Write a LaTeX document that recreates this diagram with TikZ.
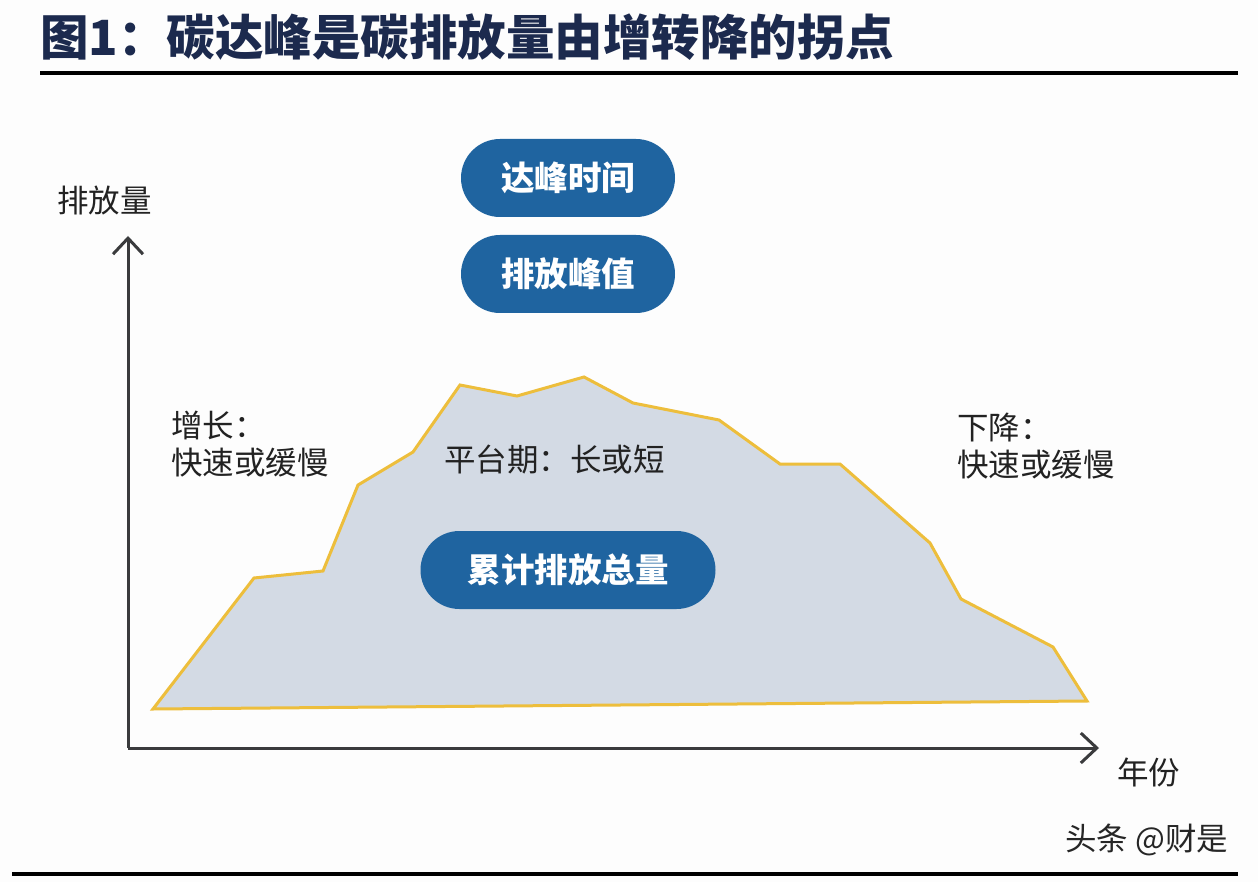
\documentclass[tikz,border=0pt]{standalone}
\usepackage{fontspec}
\newfontfamily\cjk{Noto Sans CJK SC}
\usetikzlibrary{arrows.meta}
\definecolor{bgc}{HTML}{FDFDFD}
\definecolor{titlec}{HTML}{1C2A4E}
\definecolor{axisc}{HTML}{3A3B3D}
\definecolor{pillc}{HTML}{1F64A0}
\definecolor{mountc}{HTML}{D3DAE4}
\definecolor{edgec}{HTML}{EDBE3C}
\definecolor{txtc}{HTML}{222222}
\tikzset{
  pill/.style={fill=pillc, rounded corners=39pt, minimum height=78pt, inner sep=0pt,
    text=white, font=\cjk\bfseries\fontsize{33.5}{33.5}\selectfont},
  lbl/.style={inner sep=0pt, text=txtc, font=\cjk\fontsize{31.5}{37}\selectfont, align=left},
  axis/.style={draw=axisc, line width=3pt, -{Straight Barb[length=16pt,width=30pt,line width=3pt]}},
}
\begin{document}
\begin{tikzpicture}[x=1pt,y=-1pt]
\fill[bgc] (0,0) rectangle (1258,882);
\useasboundingbox (0,0) rectangle (1258,882);
% title
\node[anchor=west, inner sep=0pt, text=titlec, font=\cjk\bfseries\fontsize{48.5}{48.5}\selectfont] (title) at (40,37) {图1：碳达峰是碳排放量由增转降的拐点};
\fill[black] (40,71.5) rectangle (1238,75.5);
\fill[black] (12,872) rectangle (1238,876);
% mountain
\fill[mountc] (153,709) -- (254,578) -- (323,571) -- (358,485) -- (413,452) -- (460,385) -- (517,396) -- (584,377) -- (633,403) -- (719,420) -- (780,464) -- (840,464) -- (930,543) -- (961,599) -- (1053,647) -- (1087,701) -- cycle;
\draw[edgec, line width=3pt, line join=miter] (153,709) -- (254,578) -- (323,571) -- (358,485) -- (413,452) -- (460,385) -- (517,396) -- (584,377) -- (633,403) -- (719,420) -- (780,464) -- (840,464) -- (930,543) -- (961,599) -- (1053,647) -- (1087,701) -- cycle;
% axes
\coordinate (o) at (128,748);
\coordinate (ytip) at (128,236);
\coordinate (xtip) at (1099,748);
\draw[axis] (o) -- (ytip);
\draw[axis] (o) -- (xtip);
\node[lbl, anchor=west] (ylab) at (57,201) {排放量};
\node[lbl, anchor=west] (xlab) at (1117,772) {年份};
% pills
\node[pill, minimum width=214pt] (p1) at (568,178) {达峰时间};
\node[pill, minimum width=214pt] (p2) at (568,274) {排放峰值};
\node[pill, minimum width=295pt] (p3) at (568,570) {累计排放总量};
% labels
\node[lbl, anchor=north west] (grow) at (171,411) {增长：\\快速或缓慢};
\node[lbl, anchor=north west] (fall) at (957,413) {下降：\\快速或缓慢};
\node[lbl, anchor=west] (plat) at (444,460) {平台期：长或短};
\node[lbl, anchor=west, text=black!85] (wm) at (1065,840) {头条 @财是};
\end{tikzpicture}
\end{document}
